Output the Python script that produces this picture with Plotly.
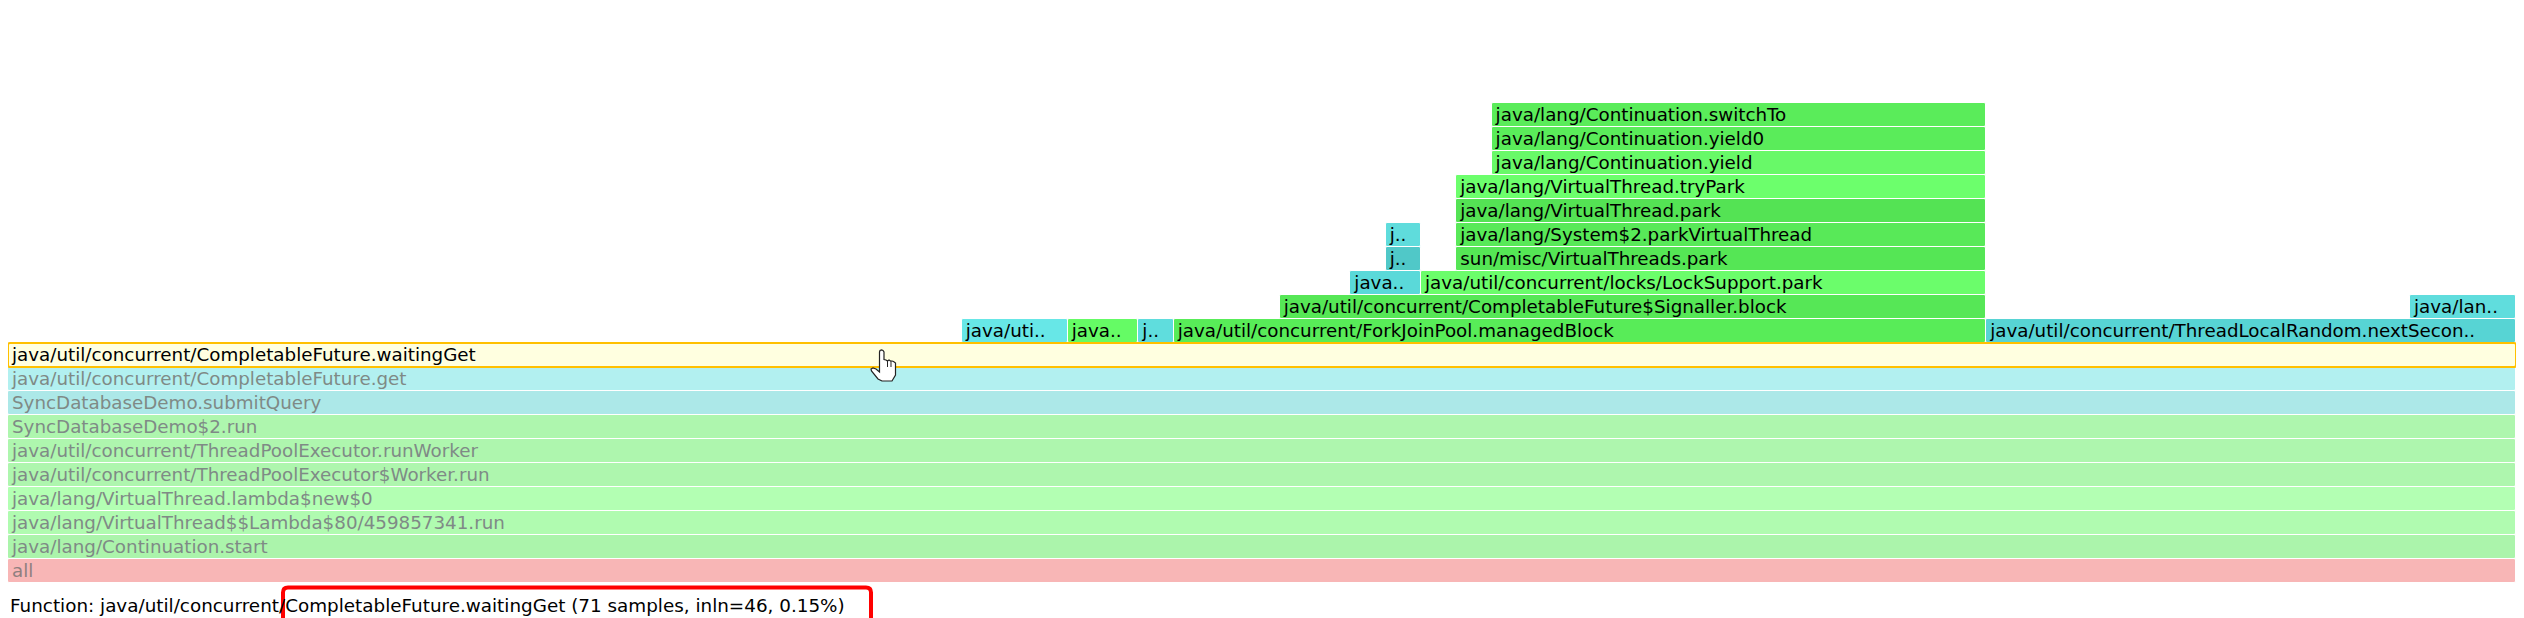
import plotly.graph_objects as go

# Flame-graph frames: label, first sample, sample count, stack depth
labels = ["all", "java/lang/Continuation.start", "java/lang/VirtualThread$$Lambda$80/459857341.run",
          "java/lang/VirtualThread.lambda$new$0", "java/util/concurrent/ThreadPoolExecutor$Worker.run",
          "java/util/concurrent/ThreadPoolExecutor.runWorker", "SyncDatabaseDemo$2.run",
          "SyncDatabaseDemo.submitQuery", "java/util/concurrent/CompletableFuture.get",
          "java/util/concurrent/CompletableFuture.waitingGet",
          "java/uti..", "java..", "j..", "java/util/concurrent/ForkJoinPool.managedBlock",
          "java/util/concurrent/ThreadLocalRandom.nextSecon..",
          "java/util/concurrent/CompletableFuture$Signaller.block", "java/lan..",
          "java..", "java/util/concurrent/locks/LockSupport.park",
          "j..", "sun/misc/VirtualThreads.park",
          "j..", "java/lang/System$2.parkVirtualThread",
          "java/lang/VirtualThread.park", "java/lang/VirtualThread.tryPark",
          "java/lang/Continuation.yield", "java/lang/Continuation.yield0", "java/lang/Continuation.switchTo"]
starts = [0]*10 + [27, 30, 32, 33, 56, 36, 68, 38, 40, 39, 41, 39, 41, 41, 41, 42, 42, 42]
samples = [71]*10 + [3, 2, 1, 23, 15, 20, 3, 2, 16, 1, 15, 1, 15, 15, 15, 14, 14, 14]
depths = list(range(10)) + [10, 10, 10, 10, 10, 11, 11, 12, 12, 13, 13, 14, 14, 15, 16, 17, 18, 19]

fills = ["#f8b6b6", "#abf4ab", "#b0fbb0", "#b3ffb3", "#aef6ae", "#aef6ae", "#aef6ae", "#ace8e8", "#b2f0f0", "#ffffe0",
         "#67e7e7", "#65fb65", "#5fdddd", "#58ec58", "#57d4d4", "#56e756", "#60dddd",
         "#5ad9d9", "#6bfd6b", "#50c8c8", "#55e655", "#5fdcdc", "#58e958", "#54e354", "#6cff6c",
         "#68f968", "#5aec5a", "#5aec5a"]
FADED = "#7f8a86"
text_colors = ["#8f7f7f"] + [FADED]*8 + ["#000000"]*19
line_colors = ["#ffffff"]*9 + ["#ffc000"] + ["#ffffff"]*18
line_widths = [1]*9 + [2] + [1]*18

FONT = "Verdana, DejaVu Sans, sans-serif"
W, H, L, R = 2524, 618, 8, 8
ROW = 24
ROW0_CENTER = 570.5
PX_PER_SAMPLE = (W - L - R) / 71
TEXT_PAD = 4 / PX_PER_SAMPLE
TEXT_DROP = 2 / ROW

order = [i for i in range(len(labels)) if i != 9] + [9]

fig = go.Figure()
fig.add_bar(orientation="h",
            y=[depths[i] for i in order], x=[samples[i] for i in order], base=[starts[i] for i in order],
            marker=dict(color=[fills[i] for i in order], cornerradius=2,
                        line=dict(color=[line_colors[i] for i in order], width=[line_widths[i] for i in order])),
            hoverinfo="skip", width=1)
fig.add_scatter(mode="text", x=[s + TEXT_PAD for s in starts], y=[d - TEXT_DROP for d in depths],
                text=labels, textposition="middle right",
                textfont=dict(family=FONT, size=18.3, color=text_colors),
                hoverinfo="skip", cliponaxis=False)

def px(x):
    return (x - L) / (W - L - R)
def py(y):
    return 1 - y / H

def path(points, close=False):
    s = "M" + " L".join(f"{px(x):.5f},{py(y):.5f}" for x, y in points)
    return s + (" Z" if close else "")

# red highlight box running off the bottom of the picture
bx0, bx1, by0, r = 283, 871, 587.5, 5
red = (f"M{px(bx0):.5f},{py(630):.5f} L{px(bx0):.5f},{py(by0+r):.5f} "
       f"Q{px(bx0):.5f},{py(by0):.5f} {px(bx0+r):.5f},{py(by0):.5f} "
       f"L{px(bx1-r):.5f},{py(by0):.5f} Q{px(bx1):.5f},{py(by0):.5f} {px(bx1):.5f},{py(by0+r):.5f} "
       f"L{px(bx1):.5f},{py(630):.5f}")

# pointer-hand cursor
hand = [(879.5, 352), (880, 350.5), (881.5, 350), (883, 350.5), (884, 352), (884, 359.5), (886, 360), (887.5, 361),
        (889, 360), (890.5, 361), (892, 361), (893.5, 361.5), (895.5, 363), (895.5, 375), (892, 381), (882, 381),
        (878, 379), (871.5, 371), (871, 369), (873, 368), (876, 369), (879.5, 372)]

fig.update_layout(
    width=W, height=H, margin=dict(l=L, r=R, t=0, b=0),
    paper_bgcolor="white", plot_bgcolor="white", showlegend=False, hovermode=False,
    barmode="overlay", bargap=0,
    xaxis=dict(range=[0, 71], visible=False, fixedrange=True),
    yaxis=dict(range=[(ROW0_CENTER - H) / ROW, ROW0_CENTER / ROW], visible=False, fixedrange=True),
    annotations=[dict(text="Function: java/util/concurrent/CompletableFuture.waitingGet (71 samples, inln=46, 0.15%)",
                      xref="paper", yref="paper", x=0, y=py(605.5), xanchor="left", yanchor="middle", showarrow=False,
                      xshift=0, font=dict(family=FONT, size=18.35, color="#000000"))],
    shapes=[
        dict(type="path", xref="paper", yref="paper", path=red, line=dict(color="#ff0000", width=4), layer="above"),
        dict(type="path", xref="paper", yref="paper", path=path(hand, True), fillcolor="white",
             line=dict(color="#222222", width=1.2), layer="above"),
        dict(type="path", xref="paper", yref="paper", path=path([(887.5, 361), (887.5, 367)]),
             line=dict(color="#222222", width=1), layer="above"),
        dict(type="path", xref="paper", yref="paper", path=path([(891, 361), (891, 367)]),
             line=dict(color="#222222", width=1), layer="above"),
    ],
)

fig.write_html("out.html", post_script="document.body.style.margin='0';document.body.style.overflow='hidden';",
               config={"displayModeBar": False})
